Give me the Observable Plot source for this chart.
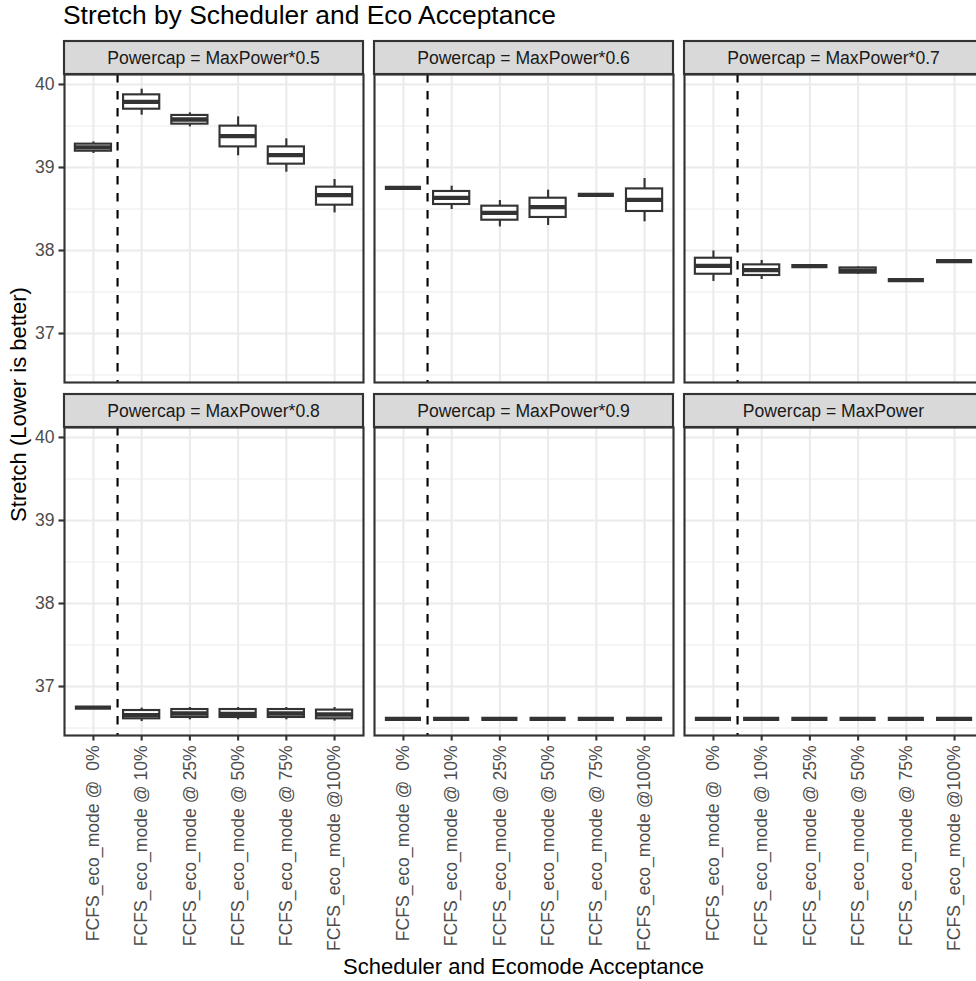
<!DOCTYPE html>
<html><head><meta charset="utf-8">
<script src="https://cdn.jsdelivr.net/npm/d3@7"></script>
<script src="https://cdn.jsdelivr.net/npm/@observablehq/plot@0.6"></script>
<style>
html,body{margin:0;padding:0;background:#fff;overflow:hidden;}
#wrap{position:relative;width:976px;height:981px;overflow:hidden;font-family:"Liberation Sans",Arial,Helvetica,sans-serif;}
#title{height:30px;line-height:30px;font-size:26.4px;padding-left:63px;color:#000;white-space:nowrap;}
#chart svg [aria-label$="tick"] path, #chart svg .tick line{stroke:#333;stroke-width:2.13px;}
</style></head><body>
<div id="wrap"><div id="title">Stretch by Scheduler and Eco Acceptance</div><div id="chart"></div></div>
<script>
const panels = ["Powercap = MaxPower*0.5", "Powercap = MaxPower*0.6", "Powercap = MaxPower*0.7",
                "Powercap = MaxPower*0.8", "Powercap = MaxPower*0.9", "Powercap = MaxPower"];
const categories = ["FCFS_eco_mode @  0%", "FCFS_eco_mode @ 10%", "FCFS_eco_mode @ 25%",
                    "FCFS_eco_mode @ 50%", "FCFS_eco_mode @ 75%", "FCFS_eco_mode @100%"];
const yTicks = [37, 38, 39, 40];
const yMinorTicks = [36.5, 37.5, 38.5, 39.5];
const vlines = [1.5];

const whiskerLow = [
  [39.169, 39.630, 39.489, 39.140, 38.943, 38.453],
  [38.754, 38.494, 38.284, 38.301, 38.670, 38.345],
  [37.627, 37.651, 37.811, 37.714, 37.642, 37.871],
  [36.747, 36.578, 36.599, 36.599, 36.599, 36.583],
  [36.611, 36.611, 36.611, 36.611, 36.611, 36.611],
  [36.611, 36.611, 36.611, 36.611, 36.611, 36.611]
];
const boxLow = [
  [39.196, 39.702, 39.522, 39.248, 39.040, 38.546],
  [38.754, 38.554, 38.365, 38.398, 38.670, 38.470],
  [37.714, 37.699, 37.811, 37.727, 37.642, 37.871],
  [36.747, 36.611, 36.627, 36.627, 36.627, 36.611],
  [36.611, 36.611, 36.611, 36.611, 36.611, 36.611],
  [36.611, 36.611, 36.611, 36.611, 36.611, 36.611]
];
const median = [
  [39.241, 39.790, 39.578, 39.377, 39.148, 38.666],
  [38.754, 38.634, 38.453, 38.522, 38.670, 38.610],
  [37.814, 37.763, 37.811, 37.759, 37.642, 37.871],
  [36.747, 36.655, 36.675, 36.671, 36.675, 36.663],
  [36.611, 36.611, 36.611, 36.611, 36.611, 36.611],
  [36.611, 36.611, 36.611, 36.611, 36.611, 36.611]
];
const boxHigh = [
  [39.281, 39.875, 39.627, 39.498, 39.248, 38.763],
  [38.754, 38.711, 38.534, 38.630, 38.670, 38.742],
  [37.907, 37.827, 37.811, 37.790, 37.642, 37.871],
  [36.747, 36.711, 36.723, 36.723, 36.723, 36.716],
  [36.611, 36.611, 36.611, 36.611, 36.611, 36.611],
  [36.611, 36.611, 36.611, 36.611, 36.611, 36.611]
];
const whiskerHigh = [
  [39.308, 39.943, 39.658, 39.610, 39.345, 38.855],
  [38.754, 38.775, 38.602, 38.727, 38.670, 38.867],
  [37.995, 37.880, 37.811, 37.802, 37.642, 37.871],
  [36.747, 36.740, 36.747, 36.747, 36.747, 36.747],
  [36.611, 36.611, 36.611, 36.611, 36.611, 36.611],
  [36.611, 36.611, 36.611, 36.611, 36.611, 36.611]
];

const boxWidth = 0.75;
const xPositions = categories.map((c, i) => i + 1);
const rows = [];
panels.forEach((p, pi) => categories.forEach((c, ci) => rows.push({
  panel: p, col: pi % 3, row: Math.floor(pi / 3), pos: ci + 1,
  lo: whiskerLow[pi][ci], q1: boxLow[pi][ci], med: median[pi][ci],
  q3: boxHigh[pi][ci], hi: whiskerHigh[pi][ci]
})));

const lw = 2.13;
const stripH = 33;
const plot = Plot.plot({
  width: 983, height: 951,
  marginLeft: 64, marginRight: 0, marginTop: 44, marginBottom: 246,
  fx: {domain: [0, 1, 2], paddingInner: 11 / 310, paddingOuter: 0, axis: null, label: null},
  fy: {domain: [0, 1], paddingInner: 45 / 353, paddingOuter: 0, axis: null, label: null},
  x: {domain: [0.4, 6.6], ticks: xPositions, tickFormat: i => (categories[i - 1] || "").replace(/ /g, "\u00a0"),
      tickRotate: -90, tickSize: 5.5, tickPadding: 4.4, label: null},
  y: {domain: [36.41, 40.12], ticks: yTicks, tickFormat: d => String(d), tickSize: 5.5, tickPadding: 4.4, label: null},
  style: {fontFamily: '"Liberation Sans", Arial, Helvetica, sans-serif', fontSize: "17.6px",
          color: "#4D4D4D", background: "white", maxWidth: "none", overflow: "visible"},
  marks: [
    Plot.ruleY(yMinorTicks, {stroke: "#EBEBEB", strokeWidth: 1.07}),
    Plot.ruleY(yTicks, {stroke: "#EBEBEB", strokeWidth: lw}),
    Plot.ruleX(xPositions, {stroke: "#EBEBEB", strokeWidth: lw}),
    Plot.ruleX(rows, {x: "pos", y1: "lo", y2: "hi", fx: "col", fy: "row", stroke: "#333333", strokeWidth: lw}),
    Plot.rect(rows, {x1: d => d.pos - boxWidth / 2, x2: d => d.pos + boxWidth / 2, y1: "q1", y2: "q3",
                     fx: "col", fy: "row", fill: "white", stroke: "#333333", strokeWidth: lw}),
    Plot.ruleY(rows, {y: "med", x1: d => d.pos - boxWidth / 2, x2: d => d.pos + boxWidth / 2,
                      fx: "col", fy: "row", stroke: "#333333", strokeWidth: 2 * lw}),
    Plot.ruleX(vlines, {stroke: "#000", strokeWidth: lw, strokeDasharray: "8.5,8.5"}),
    Plot.frame({stroke: "#333333", strokeWidth: lw})
  ]
});
document.getElementById("chart").appendChild(plot);

const svg = d3.select(plot);
const fxS = plot.scale("fx"), fyS = plot.scale("fy");
panels.forEach((p, i) => {
  const x0 = fxS.apply(i % 3), y0 = fyS.apply(Math.floor(i / 3)), bw = fxS.bandwidth;
  const g = svg.append("g");
  g.append("rect").attr("x", x0).attr("y", y0 - stripH).attr("width", bw).attr("height", stripH)
    .attr("fill", "#D9D9D9").attr("stroke", "#333333").attr("stroke-width", lw);
  g.append("text").attr("x", x0 + bw / 2).attr("y", y0 - stripH / 2).attr("dy", "0.35em")
    .attr("text-anchor", "middle").attr("fill", "#1A1A1A").style("font-size", "17.6px").text(p);
});
const yr = fyS.range ? fyS.range : [44, 705];
svg.append("text").attr("x", (64 + 983) / 2).attr("y", 944).attr("text-anchor", "middle")
  .attr("fill", "#000").style("font-size", "22px").text("Scheduler and Ecomode Acceptance");
svg.append("text").attr("transform", `translate(26,${(yr[0] + yr[1]) / 2}) rotate(-90)`)
  .attr("text-anchor", "middle").attr("fill", "#000").style("font-size", "22px").text("Stretch (Lower is better)");
</script></body></html>
